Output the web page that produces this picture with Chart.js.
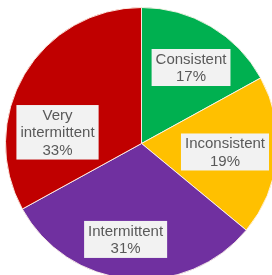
<!DOCTYPE html>
<html>
<head>
<meta charset="utf-8">
<script src="https://cdn.jsdelivr.net/npm/chart.js@4"></script>
<style>
  html, body { margin: 0; padding: 0; background: #fff; }
  body { width: 272px; height: 275px; overflow: hidden; position: relative; }
  #wrap { position: absolute; left: 5px; top: 7px; width: 273px; height: 273px; }
</style>
</head>
<body>
<div id="wrap"><canvas id="myChart" width="273" height="273"></canvas></div>
<script>
const categories = ['Consistent', 'Inconsistent', 'Intermittent', 'Very intermittent'];
const shares = [17, 19, 31, 33];
const sliceColors = ['#00b050', '#ffc000', '#7030a0', '#c00000'];

// where each label box sits, relative to its slice: angle shift (deg) and radius fraction
const labelShift = [2.5, 0.4, 4, -23];
const labelRadius = [0.667, 0.617, 0.715, 0.623];
const labelLines = [['Consistent'], ['Inconsistent'], ['Intermittent'], ['Very', 'intermittent']];

const boxLabels = {
  id: 'boxLabels',
  afterDatasetsDraw(chart) {
    const ctx = chart.ctx;
    const meta = chart.getDatasetMeta(0);
    ctx.save();
    ctx.font = '15px "Liberation Sans", Arial, sans-serif';
    ctx.textAlign = 'center';
    ctx.textBaseline = 'middle';
    const lineH = 17.5;
    meta.data.forEach((arc, i) => {
      const p = arc.getProps(['x', 'y', 'startAngle', 'endAngle', 'outerRadius'], true);
      const mid = (p.startAngle + p.endAngle) / 2 + labelShift[i] * Math.PI / 180;
      const r = p.outerRadius * labelRadius[i];
      const cx = p.x + Math.cos(mid) * r;
      const cy = p.y + Math.sin(mid) * r;
      const lines = labelLines[i].concat([shares[i] + '%']);
      let w = 0;
      lines.forEach(l => { w = Math.max(w, ctx.measureText(l).width); });
      const bw = w + 8;
      const bh = lines.length * lineH + 2;
      ctx.fillStyle = '#f2f2f2';
      ctx.fillRect(cx - bw / 2, cy - bh / 2, bw, bh);
      ctx.fillStyle = '#595959';
      lines.forEach((l, k) => {
        ctx.fillText(l, cx, cy - (lines.length - 1) * lineH / 2 + k * lineH + 1);
      });
    });
    ctx.restore();
  }
};

new Chart(document.getElementById('myChart'), {
  type: 'pie',
  data: {
    labels: categories,
    datasets: [{
      data: shares,
      backgroundColor: sliceColors,
      borderColor: 'rgba(255,245,235,0.9)',
      borderWidth: 1
    }]
  },
  options: {
    responsive: false,
    animation: false,
    layout: { padding: 0 },
    plugins: {
      legend: { display: false },
      tooltip: { enabled: false }
    }
  },
  plugins: [boxLabels]
});
</script>
</body>
</html>
